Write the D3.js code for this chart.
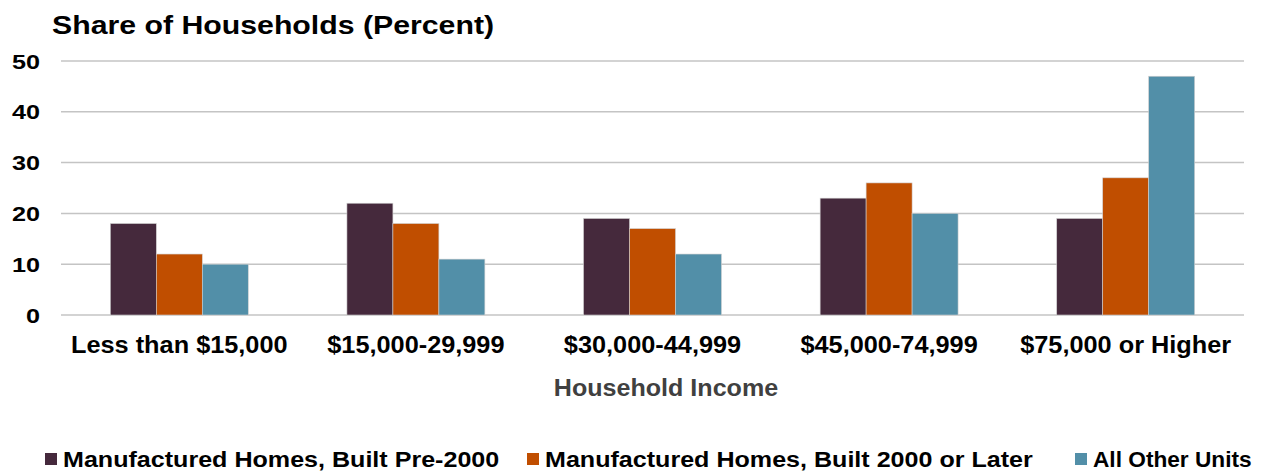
<!DOCTYPE html>
<html>
<head>
<meta charset="utf-8">
<script src="https://cdn.jsdelivr.net/npm/d3@7"></script>
<style>
  body { margin: 0; background: #fff; }
  svg text { font-family: "Liberation Sans", Arial, sans-serif; font-weight: bold; }
</style>
</head>
<body>
<svg id="chart"></svg>
<script>
const categories = ["Less than $15,000", "$15,000-29,999", "$30,000-44,999", "$45,000-74,999", "$75,000 or Higher"];
const seriesNames = ["Manufactured Homes, Built Pre-2000", "Manufactured Homes, Built 2000 or Later", "All Other Units"];
const pre2000 = [18, 22, 19, 23, 19];
const post2000 = [12, 18, 17, 26, 27];
const otherUnits = [10, 11, 12, 20, 47];
const yTicks = [0, 10, 20, 30, 40, 50];
const colors = ["#45293C", "#C04E00", "#528FA8"];

const width = 1265, height = 474;
const margin = { top: 61, right: 21, bottom: 159, left: 61 };

const svg = d3.select("#chart").attr("width", width).attr("height", height);

// the source text is drawn a bit wider than plain Arial
function stretch(sel, k) {
  sel.each(function (d, i) {
    const f = typeof k === "function" ? k(d, i) : k;
    const w = this.getComputedTextLength();
    d3.select(this).attr("textLength", w * f).attr("lengthAdjust", "spacingAndGlyphs");
  });
}

const x = d3.scaleBand()
  .domain(categories)
  .range([margin.left, width - margin.right])
  .paddingInner(0.417)
  .paddingOuter(0.2085);

const xInner = d3.scaleBand()
  .domain(seriesNames)
  .range([0, x.bandwidth()]);

const y = d3.scaleLinear()
  .domain([0, 50])
  .range([height - margin.bottom, margin.top]);

// gridlines
svg.append("g")
  .selectAll("line")
  .data(yTicks)
  .join("line")
  .attr("x1", margin.left)
  .attr("x2", width - margin.right)
  .attr("y1", d => y(d))
  .attr("y2", d => y(d))
  .attr("stroke", "#c4c4c4")
  .attr("stroke-width", 1.5);

// y labels
svg.append("g")
  .selectAll("text")
  .data(yTicks)
  .join("text")
  .attr("x", 40)
  .attr("y", d => y(d))
  .attr("dy", "0.36em")
  .attr("text-anchor", "end")
  .attr("font-size", 21)
  .attr("fill", "#000")
  .text(d => d)
  .call(stretch, 1.2);

const series = [pre2000, post2000, otherUnits];
const rows = [];
categories.forEach((c, i) => {
  seriesNames.forEach((s, j) => rows.push({ cat: c, name: s, value: series[j][i], color: colors[j] }));
});

svg.append("g")
  .selectAll("rect")
  .data(rows)
  .join("rect")
  .attr("x", d => x(d.cat) + xInner(d.name))
  .attr("y", d => y(d.value))
  .attr("width", xInner.bandwidth())
  .attr("height", d => y(0) - y(d.value))
  .attr("fill", d => d.color)
  .attr("stroke", "#d0d0d0")
  .attr("stroke-width", 0.6);

// category labels
svg.append("g")
  .selectAll("text")
  .data(categories)
  .join("text")
  .attr("x", d => x(d) + x.bandwidth() / 2)
  .attr("y", 353)
  .attr("text-anchor", "middle")
  .attr("font-size", 23)
  .attr("fill", "#000")
  .text(d => d)
  .call(stretch, 1.1);

// axis title
svg.append("text")
  .attr("x", 666)
  .attr("y", 396)
  .attr("text-anchor", "middle")
  .attr("font-size", 23)
  .attr("fill", "#404040")
  .text("Household Income")
  .call(stretch, 1.09);

// chart title
svg.append("text")
  .attr("x", 52)
  .attr("y", 34)
  .attr("font-size", 25)
  .attr("fill", "#000")
  .text("Share of Households (Percent)")
  .call(stretch, 1.21);

// legend
const legendX = [45, 527, 1075];
const legend = svg.append("g")
  .selectAll("g")
  .data(seriesNames)
  .join("g")
  .attr("transform", (d, i) => `translate(${legendX[i]},459)`);

legend.append("rect")
  .attr("x", 0)
  .attr("y", -6)
  .attr("width", 12)
  .attr("height", 12)
  .attr("fill", (d, i) => colors[i]);

legend.append("text")
  .attr("x", 18)
  .attr("y", 0)
  .attr("dy", "0.36em")
  .attr("font-size", 22)
  .attr("fill", "#000")
  .text(d => d)
  .call(stretch, (d, i) => i === 2 ? 1.03 : 1.14);
</script>
</body>
</html>
